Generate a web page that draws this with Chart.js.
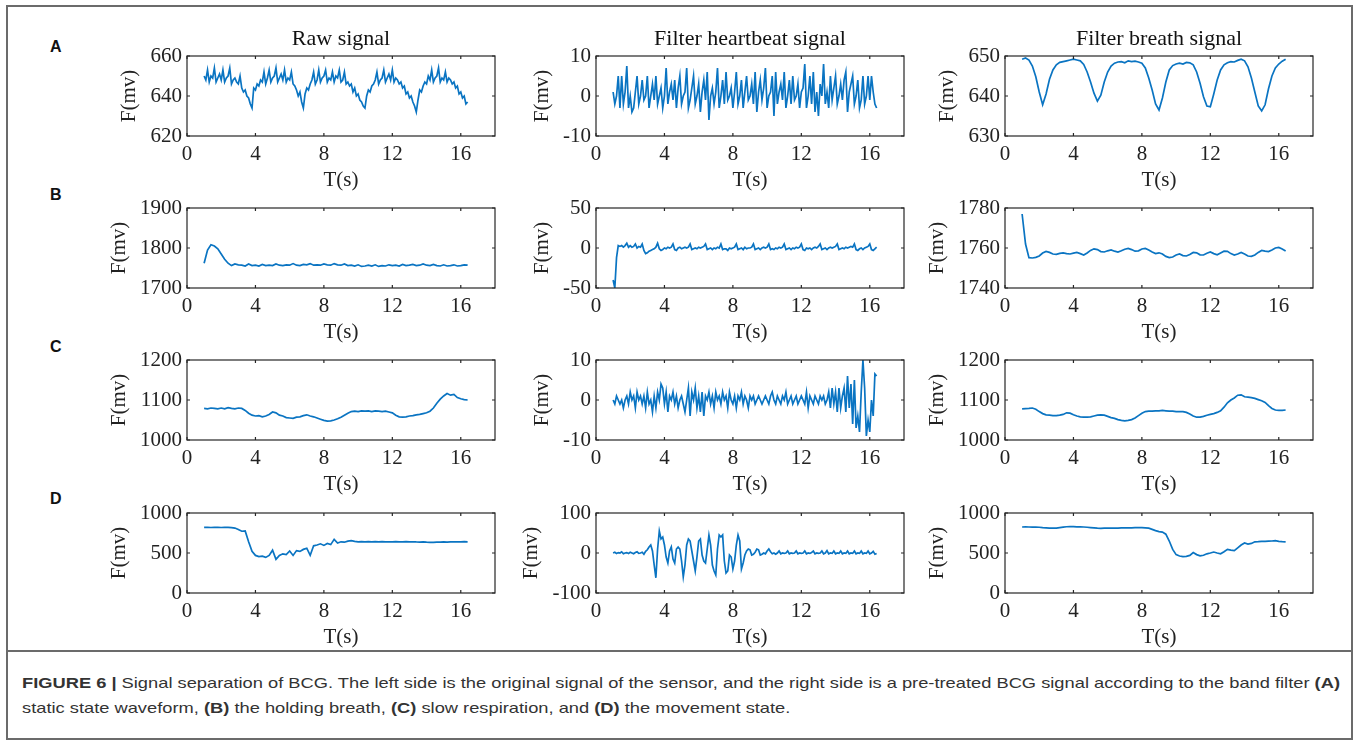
<!DOCTYPE html>
<html><head><meta charset="utf-8">
<script src="https://cdn.jsdelivr.net/npm/chart.js@4.4.1/dist/chart.umd.min.js"></script>
<style>
html,body{margin:0;padding:0;background:#fff;}
body{width:1357px;height:744px;position:relative;overflow:hidden;font-family:"Liberation Sans",Arial,sans-serif;}
#frame{position:absolute;left:6px;top:5px;width:1343px;height:731px;border:2px solid #6b6b6b;}
#sep{position:absolute;left:6px;top:650px;width:1347px;height:0;border-top:2px solid #6b6b6b;}
.plab{position:absolute;left:50px;font:bold 16px/16px "Liberation Sans",Arial,sans-serif;color:#111;}
.cell{position:absolute;}
.cap{position:absolute;left:22px;white-space:nowrap;font-size:15px;line-height:18px;color:#333;transform-origin:0 0;}
.cap b{color:#333;}
</style></head><body>
<div id="frame"></div>
<div id="sep"></div>
<div class="plab" style="top:39px">A</div>
<div class="plab" style="top:187px">B</div>
<div class="plab" style="top:339px">C</div>
<div class="plab" style="top:491px">D</div>
<div class="cap" id="cap1" style="top:674px"><b>FIGURE 6 |</b> Signal separation of BCG. The left side is the original signal of the sensor, and the right side is a pre-treated BCG signal according to the band filter <b>(A)</b></div>
<div class="cap" id="cap2" style="top:699px">static state waveform, <b>(B)</b> the holding breath, <b>(C)</b> slow respiration, and <b>(D)</b> the movement state.</div>
<div id="charts"></div>
<script>
// ---------- data ----------
const xTicks = [0, 4, 8, 12, 16];
const tStart = 1.0;

// Row A: static state
const rawA = [650,648,653,647,650,649,654,647,649,651,
 648,653,647,649,650,654,646,648,649,647,
 646,650,644,642,643,640,639,636,634,644,
 643,646,645,648,647,652,646,649,653,647,
 649,650,654,647,649,651,648,653,647,649,
 648,652,646,645,643,640,642,637,634,641,
 644,643,646,648,652,646,648,653,647,649,
 650,653,647,649,648,652,647,650,649,653,
 647,648,652,646,647,645,646,642,644,640,
 641,638,637,635,634,640,643,642,645,646,
 648,652,646,648,649,653,647,649,651,648,
 653,647,649,648,646,647,644,645,641,642,
 639,640,637,635,632,638,643,642,645,647,
 646,650,648,653,647,649,650,654,647,649,
 648,652,647,649,648,646,647,644,645,641,
 642,639,640,636,637];
const heartA = [1,-2,0,5,-3,5,-2,1,7.5,-3,
 0,-4,-3,1,5,-2,0,4,-1,0,
 5,-3,0,3,-1,5,-2,0,2,-3,
 0,7,-2,1,3,-1,4,-3,2,5,
 -2,0,1,7,-3,-1,2,5,-2,0,
 3,-4,1,4,-1,6,-6,0,2,-2,
 1,7,-3,0,4,-2,6,-1,0,2,
 -3,1,6,-2,0,4,-3,1,5,-1,
 0,3,-2,6,-4,1,4,-1,2,7,
 -3,0,1,5,-5,6,-2,1,3,-1,
 6,-3,0,4,-2,5,-1,0,3,-3,
 1,2,8,-3,0,5,-2,6,-4,1,
 -5,3,0,8,-2,1,-3,5,-1,2,
 5,-2,0,3,-1,4,6,-4,1,3,
 5,-2,0,4,-3,-1,5,-2,0,5,
 -1,5,1,-2,-3];
const breathA = [649.2,649.5,649.0,647.5,644.8,
 641.0,637.8,640.5,644.2,646.5,
 647.8,648.4,648.6,648.8,649.0,
 649.2,649.0,648.8,647.9,646.0,
 643.5,640.7,638.7,640.2,643.5,
 646.0,647.5,648.2,648.5,648.6,
 648.3,648.8,648.6,648.7,648.5,
 648.2,647.0,644.5,641.5,638.0,
 636.5,639.5,643.5,646.5,647.6,
 648.0,648.2,648.0,648.4,648.3,
 647.8,646.0,643.2,639.8,637.5,
 637.3,640.5,644.0,646.5,647.8,
 648.3,648.6,648.5,648.9,649.2,
 648.8,647.3,644.5,641.0,637.5,
 636.3,637.8,641.8,645.0,647.0,
 648.0,648.7,649.2];

// Row B: holding breath
const rawB = [1762,1795,1808,1805,1798,
 1785,1772,1762,1756,1760,
 1758,1757,1755,1760,1756,
 1757,1755,1759,1756,1757,
 1756,1760,1757,1756,1758,
 1757,1761,1757,1756,1759,
 1758,1761,1757,1758,1757,
 1760,1758,1757,1761,1758,
 1757,1760,1756,1757,1755,
 1758,1754,1755,1757,1755,
 1758,1754,1756,1755,1758,
 1756,1757,1755,1759,1756,
 1757,1759,1756,1757,1760,
 1757,1756,1759,1756,1755,
 1758,1755,1756,1758,1755,
 1756,1758,1757];
const heartB = [-40,-50,-12,3,2,3,1,3,6,1,
 3,1,2,5,0,2,1,5,-3,-7,
 -6,-4,-3,-2,-1,1,6,-1,-3,-2,
 0,-1,1,0,1,5,-2,-3,0,1,
 -1,0,1,0,1,5,-2,-1,0,-1,
 1,0,1,2,5,-2,-1,0,-2,0,
 -1,1,0,5,-2,-1,-1,-3,0,-1,
 0,1,5,-2,-1,0,-2,1,-1,0,
 0,1,5,-2,-1,0,-2,0,1,0,
 1,5,-2,-1,-2,0,-1,1,0,1,
 5,-2,-1,0,-2,0,-1,1,0,1,
 5,-2,-3,0,-1,0,-2,0,1,0,
 2,5,-2,-1,0,-2,0,1,0,1,
 2,5,-2,-1,0,-1,1,0,1,2,
 1,5,-2,-3,-1,0,-2,0,1,2,
 5,-2,-3,-1,1];
const breathB = [1777,1762,1755.2,1755,1755.3,
 1756,1757.5,1758.3,1757.8,1757,
 1756.8,1757.3,1757.6,1757.2,1757,
 1757.4,1757.8,1757.2,1756.5,1757.5,
 1758.8,1759.6,1759.2,1758.2,1758,
 1758.6,1759,1758.4,1758,1758.6,
 1759.4,1759.8,1759.2,1758.4,1758.6,
 1759.5,1759.8,1759,1758,1757.2,
 1757.6,1757,1755.8,1755.2,1755.5,
 1756.5,1757,1756.2,1756,1756.8,
 1757.8,1757.6,1756.6,1756.5,1757.4,
 1758,1757.2,1756.6,1757.5,1758.4,
 1758.3,1757.2,1756.5,1757,1757.8,
 1757,1756,1755.8,1756.5,1757.8,
 1758.8,1758.4,1758.2,1759,1760,
 1760.3,1759.5,1758.5];

// Row C: slow respiration
const rawC = [1079,1078,1080,1079,1078,
 1080,1078,1081,1079,1078,
 1080,1079,1074,1067,1062,
 1060,1061,1058,1060,1064,
 1070,1068,1062,1060,1056,
 1055,1054,1057,1058,1061,
 1063,1060,1058,1055,1052,
 1049,1047,1048,1050,1053,
 1057,1062,1067,1071,1072,
 1071,1073,1072,1073,1071,
 1073,1072,1071,1072,1070,
 1068,1062,1058,1057,1058,
 1060,1061,1063,1064,1066,
 1068,1072,1080,1092,1102,
 1110,1116,1112,1114,1106,
 1103,1101,1100];
const heartC = [0,-1,1,0,-1,0,-2,0,1,-1,
 2,0,1,-2,2,0,1,-1,1,-2,
 2,-1,0,-3,1,-2,2,0,4,3,
 -1,2,-3,1,0,2,-1,1,-2,0,
 1,-1,-3,0,3,-4,2,0,3,-2,
 1,-3,2,-4,1,0,2,-1,1,-2,
 2,0,1,-1,2,0,1,-2,2,0,
 -1,1,-2,1,0,2,-1,1,0,-2,
 1,0,1,-1,0,1,0,-1,0,1,
 0,-1,1,2,0,-1,1,0,-1,1,
 0,2,-1,0,1,-1,0,1,-1,0,
 1,0,-1,2,-2,1,0,-1,1,0,
 -1,1,0,1,-1,0,2,-2,3,-1,
 2,-3,3,-2,1,3,-3,6,-2,4,
 -6,5,-7,-4,-8,2,10,3,-9,-5,
 -8,0,-4,6.5,6];
const breathC = [1078,1078.5,1079,1080,1077,
 1071,1066,1063,1062,1061,
 1061,1062,1064,1068,1067,
 1063,1060,1058,1057,1057,
 1058,1060,1062,1063,1062,
 1059,1056,1054,1051,1049,
 1048,1049,1051,1055,1061,
 1067,1071,1072,1072,1073,
 1073,1074,1073,1072,1072,
 1071,1071,1071,1069,1065,
 1060,1057,1057,1059,1062,
 1064,1066,1069,1073,1082,
 1093,1100,1105,1112,1113,
 1108,1107,1106,1104,1101,
 1098,1094,1086,1079,1075,
 1074,1074,1075];

// Row D: movement state
const rawD = [820,821,819,821,820,
 819,821,820,818,812,
 795,772,775,640,520,
 470,455,460,445,470,
 535,420,470,490,480,
 525,470,530,520,545,
 560,470,590,600,615,
 595,620,605,670,625,
 640,635,648,655,645,
 640,642,638,641,640,
 642,639,641,640,638,
 640,641,639,640,642,
 639,640,638,637,639,
 636,634,632,635,636,
 638,637,639,640,638,
 640,641,640];
const heartD = [0,2,-1,1,0,3,-2,0,1,-1,
 2,0,-2,1,3,-1,0,2,-3,4,
 8,15,20,5,-30,-62,10,55,35,40,
 20,-10,-25,5,15,-15,-25,10,15,10,
 -20,-60,-30,20,35,30,5,-20,-45,-10,
 30,35,-5,-20,-25,10,45,20,-30,-45,
 -55,10,45,40,45,-20,-50,-45,-5,-10,
 -40,-20,20,45,30,-40,-25,-5,5,10,
 8,-5,-3,2,10,8,-5,-3,0,-2,
 5,10,3,-2,0,-3,0,5,-2,0,
 -1,0,5,-2,0,-1,0,5,-2,0,
 -1,0,5,-2,0,-1,1,5,-2,0,
 -1,0,5,-2,0,6,-2,0,-1,5,
 -2,0,-1,5,-2,0,-1,5,-2,0,
 -1,5,-2,0,-1,5,-2,0,-1,5,
 -2,0,4,-3,-1];
const breathD = [825,826,825,824,823,
 822,818,815,812,810,
 812,818,824,828,830,
 829,827,826,825,822,
 818,814,810,809,810,
 810,811,810,812,813,
 814,815,815,816,817,
 817,815,810,795,780,
 768,762,735,650,545,
 480,462,455,458,470,
 505,480,465,472,490,
 500,512,500,490,515,
 545,535,530,565,600,
 625,612,620,640,642,
 645,646,648,650,655,
 645,642,640];

// y-axis tick labels
const ticksRawA = [620, 640, 660], ticksHeartA = [-10, 0, 10], ticksBreathA = [630, 640, 650];
const ticksRawB = [1700, 1800, 1900], ticksHeartB = [-50, 0, 50], ticksBreathB = [1740, 1760, 1780];
const ticksRawC = [1000, 1100, 1200], ticksHeartC = [-10, 0, 10], ticksBreathC = [1000, 1100, 1200];
const ticksRawD = [0, 500, 1000], ticksHeartD = [-100, 0, 100], ticksBreathD = [0, 500, 1000];
const titles = ['Raw signal', 'Filter heartbeat signal', 'Filter breath signal'];

const panels = [
  {row:0, col:0, values:rawA,    step:0.1, yTicks:ticksRawA},
  {row:0, col:1, values:heartA,  step:0.1, yTicks:ticksHeartA},
  {row:0, col:2, values:breathA, step:0.2, yTicks:ticksBreathA},
  {row:1, col:0, values:rawB,    step:0.2, yTicks:ticksRawB},
  {row:1, col:1, values:heartB,  step:0.1, yTicks:ticksHeartB},
  {row:1, col:2, values:breathB, step:0.2, yTicks:ticksBreathB},
  {row:2, col:0, values:rawC,    step:0.2, yTicks:ticksRawC},
  {row:2, col:1, values:heartC,  step:0.1, yTicks:ticksHeartC},
  {row:2, col:2, values:breathC, step:0.2, yTicks:ticksBreathC},
  {row:3, col:0, values:rawD,    step:0.2, yTicks:ticksRawD},
  {row:3, col:1, values:heartD,  step:0.1, yTicks:ticksHeartD},
  {row:3, col:2, values:breathD, step:0.2, yTicks:ticksBreathD}
];

// ---------- layout ----------
const rowTop = [56, 208, 360, 513];
const colLeft = [187, 596, 1005];
const plotW = 308, plotH = 80;
const padL = 100, padT = 40, padR = 12, padB = 60;
const SERIF = '"Liberation Serif", "Times New Roman", serif';
const LINE = '#0a74c2', AX = '#262626';

// stretch both caption lines by the factor that makes line 1 span the reference width
(() => {
  const c1 = document.getElementById('cap1'), c2 = document.getElementById('cap2');
  const k = 1318 / c1.getBoundingClientRect().width;
  c1.style.transform = c2.style.transform = 'scaleX(' + k + ')';
})();

const mctx = document.createElement('canvas').getContext('2d');
mctx.font = '21px "Liberation Serif"';

const boxTicks = {
  id: 'boxTicks',
  afterDatasetsDraw(chart) {
    const {ctx, chartArea: a, scales: {x, y}} = chart;
    ctx.save();
    ctx.strokeStyle = AX; ctx.lineWidth = 1.2;
    ctx.strokeRect(a.left, a.top, a.right - a.left, a.bottom - a.top);
    ctx.beginPath();
    x.ticks.forEach(t => {
      const px = x.getPixelForValue(t.value);
      ctx.moveTo(px, a.bottom); ctx.lineTo(px, a.bottom - 3);
      ctx.moveTo(px, a.top); ctx.lineTo(px, a.top + 3);
    });
    y.ticks.forEach(t => {
      const py = y.getPixelForValue(t.value);
      ctx.moveTo(a.left, py); ctx.lineTo(a.left + 3, py);
      ctx.moveTo(a.right, py); ctx.lineTo(a.right - 3, py);
    });
    ctx.stroke();
    ctx.restore();
  }
};

const host = document.getElementById('charts');
panels.forEach(p => {
  const W = padL + plotW + padR, H = padT + plotH + padB;
  const cell = document.createElement('div');
  cell.className = 'cell';
  cell.style.left = (colLeft[p.col] - padL) + 'px';
  cell.style.top = (rowTop[p.row] - padT) + 'px';
  const cv = document.createElement('canvas');
  cv.width = W; cv.height = H;
  cv.style.width = W + 'px'; cv.style.height = H + 'px';
  cell.appendChild(cv); host.appendChild(cell);

  const pts = p.values.map((v, i) => ({x: +(tStart + i * p.step).toFixed(2), y: v}));
  const lw = Math.max(...p.yTicks.map(v => mctx.measureText(String(v)).width));
  const yTitlePad = Math.max(0, padL - lw - 26 - 10.5);
  const title = p.row === 0 ? titles[p.col] : '';

  new Chart(cv, {
    type: 'line',
    data: {datasets: [{data: pts, borderColor: LINE, borderWidth: 1.7, pointRadius: 0, tension: 0, fill: false}]},
    options: {
      responsive: false, animation: false, devicePixelRatio: 1,
      layout: {padding: {top: title ? 0 : padT, right: padR, left: 0, bottom: 0}},
      plugins: {
        legend: {display: false}, tooltip: {enabled: false},
        title: {display: !!title, text: title, fullSize: false, color: '#111',
          font: {family: SERIF, size: 22, weight: 'normal', lineHeight: 1},
          padding: {top: 12, bottom: 6}}
      },
      scales: {
        x: {
          type: 'linear', min: 0, max: 18,
          afterBuildTicks: s => { s.ticks = xTicks.map(v => ({value: v})); },
          afterFit: s => { s.height = padB; },
          grid: {display: false, drawTicks: false}, border: {display: false},
          ticks: {padding: 7.5, color: '#222', maxRotation: 0, autoSkip: false,
            font: {family: SERIF, size: 21, lineHeight: 1}, callback: v => String(v)},
          title: {display: true, text: 'T(s)', color: '#222',
            font: {family: SERIF, size: 21, lineHeight: 1}, padding: {top: 0, bottom: 5.5}}
        },
        y: {
          type: 'linear', min: p.yTicks[0], max: p.yTicks[p.yTicks.length - 1],
          afterBuildTicks: s => { s.ticks = p.yTicks.map(v => ({value: v})); },
          afterFit: s => { s.width = padL; },
          grid: {display: false, drawTicks: false}, border: {display: false},
          ticks: {padding: 5, color: '#222', autoSkip: false,
            font: {family: SERIF, size: 21, lineHeight: 1}, callback: v => String(v)},
          title: {display: true, text: 'F(mv)', color: '#222',
            font: {family: SERIF, size: 21, lineHeight: 1}, padding: {top: yTitlePad, bottom: 0}}
        }
      }
    },
    plugins: [boxTicks]
  });
});
</script>
</body></html>
